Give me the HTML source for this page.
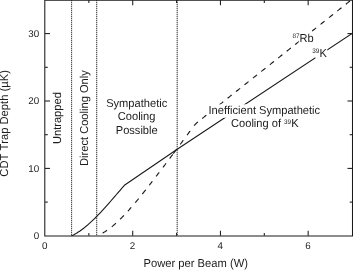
<!DOCTYPE html>
<html><head><meta charset="utf-8"><style>
html,body{margin:0;padding:0;background:#fff;}
svg{display:block;filter:grayscale(1);font-family:"Liberation Sans",sans-serif;}
text{fill:#1c1c1c;font-kerning:none;text-rendering:geometricPrecision;}
</style></head><body>
<svg width="353" height="270" viewBox="0 0 353 270">
<rect width="353" height="270" fill="#fff"/>
<g stroke="#444" stroke-width="1" fill="none"><line x1="71.6" y1="0" x2="71.6" y2="235.8" stroke="#c4c4c4" stroke-width="1"/><line x1="71.6" y1="0" x2="71.6" y2="235.8" stroke-dasharray="1 1" stroke-width="1"/><line x1="96.7" y1="0" x2="96.7" y2="235.8" stroke="#c4c4c4" stroke-width="1"/><line x1="96.7" y1="0" x2="96.7" y2="235.8" stroke-dasharray="1 1" stroke-width="1"/><line x1="177.2" y1="0" x2="177.2" y2="235.8" stroke="#c4c4c4" stroke-width="1"/><line x1="177.2" y1="0" x2="177.2" y2="235.8" stroke-dasharray="1 1" stroke-width="1"/></g>
<g stroke="#1a1a1a" stroke-width="1.05" fill="none">
<path d="M44.8,0.3 L352.5,0.3 L352.5,236 L44.8,236 Z"/>
</g>
<g stroke="#1a1a1a" stroke-width="1.05" fill="none"><line x1="88.86" y1="235.8" x2="88.86" y2="233.0"/><line x1="88.86" y1="0.3" x2="88.86" y2="3.0999999999999996"/><line x1="132.72" y1="235.8" x2="132.72" y2="230.8"/><line x1="132.72" y1="0.3" x2="132.72" y2="5.3"/><line x1="176.58" y1="235.8" x2="176.58" y2="233.0"/><line x1="176.58" y1="0.3" x2="176.58" y2="3.0999999999999996"/><line x1="220.44" y1="235.8" x2="220.44" y2="230.8"/><line x1="220.44" y1="0.3" x2="220.44" y2="5.3"/><line x1="264.30" y1="235.8" x2="264.30" y2="233.0"/><line x1="264.30" y1="0.3" x2="264.30" y2="3.0999999999999996"/><line x1="308.16" y1="235.8" x2="308.16" y2="230.8"/><line x1="308.16" y1="0.3" x2="308.16" y2="5.3"/><line x1="45.0" y1="202.10" x2="47.8" y2="202.10"/><line x1="352.5" y1="202.10" x2="349.7" y2="202.10"/><line x1="45.0" y1="168.40" x2="50.0" y2="168.40"/><line x1="352.5" y1="168.40" x2="347.5" y2="168.40"/><line x1="45.0" y1="134.70" x2="47.8" y2="134.70"/><line x1="352.5" y1="134.70" x2="349.7" y2="134.70"/><line x1="45.0" y1="101.00" x2="50.0" y2="101.00"/><line x1="352.5" y1="101.00" x2="347.5" y2="101.00"/><line x1="45.0" y1="67.30" x2="47.8" y2="67.30"/><line x1="352.5" y1="67.30" x2="349.7" y2="67.30"/><line x1="45.0" y1="33.60" x2="50.0" y2="33.60"/><line x1="352.5" y1="33.60" x2="347.5" y2="33.60"/></g>
<path d="M71.50,235.80 L72.86,235.16 L74.21,234.47 L75.57,233.73 L76.93,232.93 L78.28,232.08 L79.64,231.19 L80.99,230.24 L82.35,229.25 L83.71,228.22 L85.06,227.14 L86.42,226.03 L87.78,224.87 L89.13,223.68 L90.49,222.46 L91.85,221.20 L93.20,219.91 L94.56,218.59 L95.92,217.24 L97.27,215.86 L98.63,214.46 L99.98,213.03 L101.34,211.59 L102.70,210.12 L104.05,208.64 L105.41,207.14 L106.77,205.62 L108.12,204.09 L109.48,202.55 L110.84,201.00 L112.19,199.45 L113.55,197.88 L114.91,196.32 L116.26,194.75 L117.62,193.18 L118.97,191.60 L120.33,190.04 L121.69,188.47 L123.04,186.91 L124.40,185.30 L177.20,149.20 L353.50,32.60" stroke="#1a1a1a" stroke-width="1.1" fill="none" stroke-linejoin="round"/>
<path d="M102.55,233.08 L102.90,232.88 L103.24,232.69 L103.58,232.49 L103.93,232.29 L104.27,232.08 L104.61,231.87 L104.96,231.66 L105.30,231.44 L105.64,231.22 L105.99,231.00 L106.33,230.77 L106.67,230.54 L107.02,230.31 M111.79,226.74 L112.13,226.46 L112.47,226.18 L112.82,225.90 L113.16,225.61 L113.50,225.32 L113.85,225.03 L114.19,224.73 L114.53,224.43 L114.88,224.13 L115.22,223.83 L115.56,223.53 L115.91,223.22 M120.12,219.25 L120.46,218.91 L120.80,218.57 L121.15,218.23 L121.49,217.89 L121.83,217.54 L122.18,217.19 L122.52,216.84 L122.86,216.49 L123.21,216.13 L123.55,215.78 L123.89,215.42 M127.86,211.16 L128.20,210.78 L128.54,210.40 L128.89,210.02 L129.23,209.63 L129.57,209.25 L129.92,208.86 L130.26,208.47 L130.60,208.08 L130.95,207.69 L131.29,207.30 M135.22,202.71 L135.56,202.30 L135.91,201.90 L136.25,201.48 L136.59,201.07 L136.94,200.66 L137.28,200.25 L137.62,199.83 L137.97,199.42 L138.31,199.00 L138.65,198.58 M142.33,194.05 L142.68,193.62 L143.02,193.20 L143.36,192.77 L143.71,192.34 L144.05,191.91 L144.39,191.47 L144.74,191.04 L145.08,190.61 L145.42,190.18 L145.77,189.74 M149.28,185.26 L149.63,184.82 L149.97,184.38 L150.31,183.94 L150.66,183.49 L151.00,183.05 L151.34,182.61 L151.69,182.17 L152.03,181.72 L152.37,181.28 M156.13,176.39 L156.47,175.94 L156.82,175.49 L157.16,175.04 L157.50,174.59 L157.85,174.14 L158.19,173.69 L158.53,173.24 L158.88,172.79 L159.22,172.34 M162.92,167.46 L163.26,167.01 L163.60,166.56 L163.95,166.10 L164.29,165.65 L164.63,165.19 L164.98,164.74 L165.32,164.28 L165.66,163.83 L166.01,163.37 M169.66,158.52 L170.00,158.06 L170.35,157.60 L170.69,157.14 L171.03,156.69 L171.38,156.23 L171.72,155.77 L172.06,155.31 L172.41,154.86 L172.75,154.40 M173.31,153.65 L173.65,153.19 L173.99,152.73 L174.34,152.28 L174.68,151.82 L175.02,151.36 L175.37,150.90 L175.71,150.44 L176.05,149.98 L176.40,149.52 M180.21,144.40 L180.55,143.94 L180.89,143.48 L181.24,143.02 L181.58,142.55 L181.92,142.09 L182.27,141.63 L182.61,141.16 L182.95,140.70 L183.30,140.24 M187.00,135.21 L187.35,134.74 L187.69,134.27 L188.03,133.81 L188.37,133.34 L188.72,132.87 L189.06,132.40 L189.40,131.93 L189.75,131.46 L190.09,130.99 M194.14,125.63 L194.48,125.23 L194.83,124.84 L195.17,124.47 L195.51,124.10 L195.86,123.75 L196.20,123.41 L196.54,123.08 L196.89,122.76 L197.23,122.45 L197.57,122.16 L197.92,121.87 M202.19,118.47 L202.53,118.20 L202.88,117.93 L203.22,117.65 L203.56,117.38 L203.91,117.11 L204.25,116.83 L204.59,116.56 L204.93,116.29 L205.28,116.01 L205.62,115.74 L205.96,115.47 L206.31,115.20 M210.64,111.75 L210.98,111.48 L211.33,111.20 L211.67,110.93 L212.01,110.66 L212.36,110.39 L212.70,110.11 L213.04,109.84 L213.39,109.57 L213.73,109.29 L214.07,109.02 L214.42,108.75 L214.76,108.47 M219.09,105.03 L219.44,104.76 L219.78,104.48 L220.12,104.21 L220.47,103.94 L220.81,103.66 L221.15,103.39 L221.49,103.12 L221.84,102.85 L222.18,102.57 L222.52,102.30 L222.87,102.03 L223.21,101.75 M227.54,98.31 L227.89,98.03 L228.23,97.76 L228.57,97.49 L228.92,97.22 L229.26,96.94 L229.60,96.67 L229.95,96.40 L230.29,96.12 L230.63,95.85 L230.98,95.58 L231.32,95.31 L231.66,95.03 M236.00,91.59 L236.34,91.31 L236.68,91.04 L237.02,90.77 L237.37,90.49 L237.71,90.22 L238.05,89.95 L238.40,89.68 L238.74,89.40 L239.08,89.13 L239.43,88.86 L239.77,88.58 L240.11,88.31 M244.44,84.87 L244.78,84.60 L245.12,84.33 L245.47,84.05 L245.81,83.78 L246.15,83.51 L246.50,83.23 L246.84,82.96 L247.18,82.69 L247.53,82.42 L247.87,82.14 L248.21,81.87 L248.56,81.60 M252.89,78.15 L253.23,77.88 L253.58,77.61 L253.92,77.33 L254.26,77.06 L254.61,76.79 L254.95,76.51 L255.29,76.24 L255.64,75.97 L255.98,75.69 L256.32,75.42 L256.67,75.15 L257.01,74.88 M261.34,71.43 L261.68,71.16 L262.03,70.88 L262.37,70.61 L262.71,70.34 L263.06,70.07 L263.40,69.79 L263.74,69.52 L264.09,69.25 L264.43,68.97 L264.77,68.70 L265.12,68.43 L265.46,68.15 M269.79,64.71 L270.14,64.44 L270.48,64.16 L270.82,63.89 L271.17,63.62 L271.51,63.34 L271.85,63.07 L272.20,62.80 L272.54,62.53 L272.88,62.25 L273.23,61.98 L273.57,61.71 L273.91,61.43 M278.24,57.99 L278.59,57.71 L278.93,57.44 L279.27,57.17 L279.62,56.90 L279.96,56.62 L280.30,56.35 L280.65,56.08 L280.99,55.80 L281.33,55.53 L281.68,55.26 L282.02,54.99 L282.36,54.71 M286.70,51.27 L287.04,50.99 L287.38,50.72 L287.73,50.45 L288.07,50.18 L288.41,49.90 L288.76,49.63 L289.10,49.36 L289.44,49.08 L289.79,48.81 L290.13,48.54 L290.47,48.26 L290.81,47.99 M295.15,44.55 L295.49,44.27 L295.83,44.00 L296.18,43.73 L296.52,43.45 L296.86,43.18 L297.21,42.91 L297.55,42.64 L297.89,42.36 L298.24,42.09 L298.58,41.82 L298.92,41.54 L299.27,41.27 M303.60,37.82 L303.94,37.55 L304.29,37.28 L304.63,37.01 L304.97,36.73 L305.32,36.46 L305.66,36.19 L306.00,35.91 L306.35,35.64 L306.69,35.37 L307.03,35.10 L307.37,34.82 L307.72,34.55 M312.04,31.11 L312.39,30.84 L312.73,30.56 L313.07,30.29 L313.42,30.02 L313.76,29.75 L314.10,29.47 L314.44,29.20 L314.79,28.93 L315.13,28.65 L315.47,28.38 L315.82,28.11 L316.16,27.84 M320.49,24.39 L320.84,24.12 L321.18,23.84 L321.52,23.57 L321.87,23.30 L322.21,23.02 L322.55,22.75 L322.90,22.48 L323.24,22.21 L323.58,21.93 L323.93,21.66 L324.27,21.39 L324.61,21.11 M328.95,17.67 L329.29,17.40 L329.63,17.12 L329.98,16.85 L330.32,16.58 L330.66,16.30 L331.00,16.03 L331.35,15.76 L331.69,15.48 L332.03,15.21 L332.38,14.94 L332.72,14.67 L333.06,14.39 M337.40,10.95 L337.74,10.67 L338.08,10.40 L338.43,10.13 L338.77,9.86 L339.11,9.58 L339.46,9.31 L339.80,9.04 L340.14,8.76 L340.49,8.49 L340.83,8.22 L341.17,7.94 L341.52,7.67 M345.85,4.23 L346.19,3.95 L346.54,3.68 L346.88,3.41 L347.22,3.13 L347.56,2.86 L347.91,2.59 L348.25,2.32 L348.59,2.04 L348.94,1.77 L349.28,1.50 L349.62,1.22 L349.97,0.95 " stroke="#1a1a1a" stroke-width="1.15" fill="none"/>
<text x="44.70" y="248.9" text-anchor="middle" font-size="9.8">0</text><text x="132.42" y="248.9" text-anchor="middle" font-size="9.8">2</text><text x="220.14" y="248.9" text-anchor="middle" font-size="9.8">4</text><text x="307.86" y="248.9" text-anchor="middle" font-size="9.8">6</text><text x="39.2" y="239.10" text-anchor="end" font-size="9.8">0</text><text x="39.2" y="171.70" text-anchor="end" font-size="9.8">10</text><text x="39.2" y="104.30" text-anchor="end" font-size="9.8">20</text><text x="39.2" y="36.90" text-anchor="end" font-size="9.8">30</text>
<g fill="#fff" stroke="none">
<rect x="208.2" y="104.3" width="113" height="13.5"/>
<rect x="231" y="117.7" width="68.5" height="13.5"/>
<rect x="298.7" y="33" width="15.8" height="11"/>
<rect x="315.3" y="47.9" width="12" height="10.5"/>
</g>
<g font-size="11.5">
<text transform="translate(195.7,267.1) scale(0.965,1)" text-anchor="middle" font-size="11.6">Power per Beam (W)</text>
<text transform="translate(7.9,123.4) rotate(-90) scale(0.965,1)" text-anchor="middle" font-size="11.6">CDT Trap Depth (µK)</text>
<text transform="translate(61.05,118.1) rotate(-90) scale(0.965,1)" text-anchor="middle">Untrapped</text>
<text transform="translate(87.6,118.1) rotate(-90) scale(0.965,1)" text-anchor="middle">Direct Cooling Only</text>
<text transform="translate(136.7,106.5) scale(0.965,1)" text-anchor="middle">Sympathetic</text>
<text transform="translate(136.6,119.7) scale(0.965,1)" text-anchor="middle">Cooling</text>
<text transform="translate(136.7,133.5) scale(0.965,1)" text-anchor="middle">Possible</text>
<text transform="translate(264.3,113.6) scale(0.965,1)" text-anchor="middle">Inefficient Sympathetic</text>
<text transform="translate(264.8,127.4) scale(0.965,1)" text-anchor="middle">Cooling of <tspan font-size="6.6" dy="-3.8">39</tspan><tspan dy="3.8">K</tspan></text>
<text transform="translate(292.5,41.8) scale(0.965,1)"><tspan font-size="6.6" dy="-3.8">87</tspan><tspan dy="3.8">Rb</tspan></text>
<text transform="translate(312.3,56.6) scale(0.965,1)"><tspan font-size="6.6" dy="-3.8">39</tspan><tspan dy="3.8">K</tspan></text>
</g>
</svg></body></html>
